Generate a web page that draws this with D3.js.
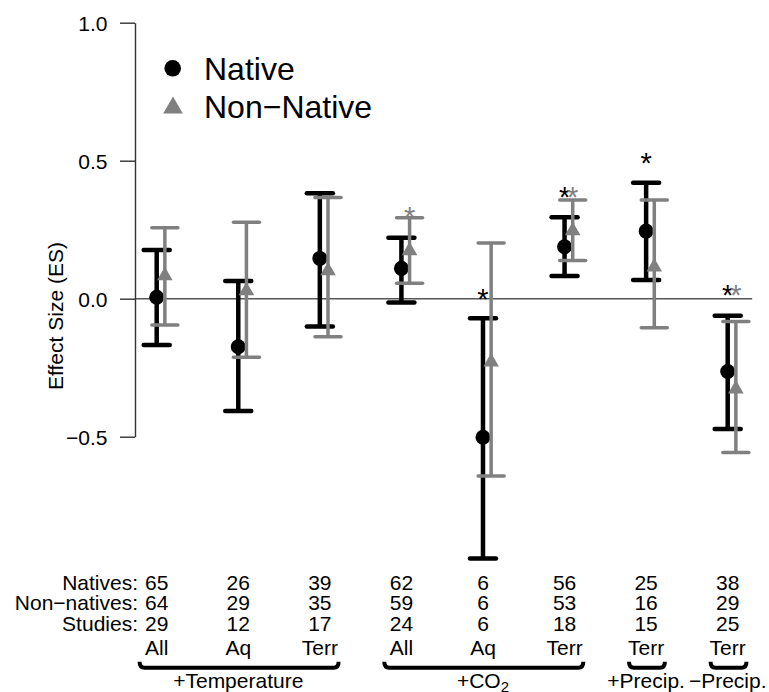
<!DOCTYPE html>
<html>
<head>
<meta charset="utf-8">
<script src="https://cdn.jsdelivr.net/npm/d3@7"></script>
<style>
  body { margin: 0; background: #fff; }
  text { font-family: "Liberation Sans", Arial, sans-serif; fill: #000; }
</style>
</head>
<body>
<div id="chart"></div>
<script>
// Data
const categories = ['All', 'Aq', 'Terr', 'All', 'Aq', 'Terr', 'Terr', 'Terr']
const treatments = ['+Temperature', '+CO2', '+Precip.', '\u2212Precip.']
const treatmentOf = [0, 0, 0, 1, 1, 1, 2, 3]

const nativeES = [0.005, -0.174, 0.146, 0.110, -0.502, 0.188, 0.245, -0.264]
const nativeLower = [-0.168, -0.407, -0.101, -0.014, -0.941, 0.082, 0.068, -0.472]
const nativeUpper = [0.176, 0.064, 0.382, 0.221, -0.071, 0.295, 0.420, -0.062]

const nonNativeES = [0.083, 0.029, 0.101, 0.174, -0.229, 0.246, 0.115, -0.327]
const nonNativeLower = [-0.095, -0.212, -0.138, 0.056, -0.642, 0.138, -0.105, -0.557]
const nonNativeUpper = [0.257, 0.277, 0.367, 0.293, 0.202, 0.358, 0.358, -0.083]

// significance stars (value at which the star sits)
const starNative = [null, null, null, null, 0.025, 0.394, 0.518, 0.038]
const starNonNative = [null, null, null, 0.321, null, 0.394, null, 0.038]

const nNatives = [65, 26, 39, 62, 6, 56, 25, 38]
const nNonNatives = [64, 29, 35, 59, 6, 53, 16, 29]
const nStudies = [29, 12, 17, 24, 6, 18, 15, 25]
const rowLabels = ['Natives:', 'Non\u2212natives:', 'Studies:']

const yTicks = [-0.5, 0, 0.5, 1.0]

function draw() {
  let dimensions = {
    width: 769,
    height: 692,
  }

  const grey = '#808080'
  const offset = 0.1

  const svg = d3.select('#chart')
    .append('svg')
    .attr('width', dimensions.width)
    .attr('height', dimensions.height)

  // Scales
  const xScale = d3.scaleLinear()
    .domain([1, 8])
    .range([156.7, 727.7])

  const yScale = d3.scaleLinear()
    .domain([-0.5, 1.0])
    .range([436.7, 22.7])

  const idx = d3.range(categories.length)

  // zero line
  svg.append('line')
    .attr('x1', 135)
    .attr('x2', xScale(8.3))
    .attr('y1', yScale(0))
    .attr('y2', yScale(0))
    .attr('stroke', '#555')
    .attr('stroke-width', 1.5)

  // Axis
  const yAxis = d3.axisLeft(yScale)
    .tickValues(yTicks)
    .tickFormat(d3.format('.1f'))
    .tickSize(15)
    .tickSizeOuter(0)
    .tickPadding(12.5)

  const axisG = svg.append('g')
    .attr('transform', 'translate(135, 0)')
    .call(yAxis)

  axisG.select('.domain')
    .attr('stroke', '#333')
    .attr('stroke-width', 1.4)
  axisG.selectAll('.tick line')
    .attr('stroke', '#333')
    .attr('stroke-width', 1.4)
  axisG.selectAll('.tick text')
    .attr('font-size', 21)
    .attr('font-family', '"Liberation Sans", Arial, sans-serif')
    .attr('dy', '0.37em')
    .attr('fill', '#000')

  svg.append('text')
    .attr('transform', 'translate(63, 316) rotate(-90)')
    .attr('text-anchor', 'middle')
    .attr('font-size', 21)
    .text('Effect Size (ES)')

  // Error bars
  function errorBars(lower, upper, dx, color, lw, capLw) {
    const g = svg.append('g')
    g.selectAll('line.v')
      .data(idx)
      .join('line')
      .attr('class', 'v')
      .attr('x1', i => xScale(i + 1 + dx))
      .attr('x2', i => xScale(i + 1 + dx))
      .attr('y1', i => yScale(lower[i]))
      .attr('y2', i => yScale(upper[i]))
      .attr('stroke', color)
      .attr('stroke-width', lw)

    const caps = idx.flatMap(i => [{ i, v: lower[i] }, { i, v: upper[i] }])
    g.selectAll('line.cap')
      .data(caps)
      .join('line')
      .attr('class', 'cap')
      .attr('x1', d => xScale(d.i + 1 + dx) - 13)
      .attr('x2', d => xScale(d.i + 1 + dx) + 13)
      .attr('y1', d => yScale(d.v))
      .attr('y2', d => yScale(d.v))
      .attr('stroke', color)
      .attr('stroke-width', capLw)
      .attr('stroke-linecap', 'round')
  }

  errorBars(nativeLower, nativeUpper, 0, '#000', 4.5, 4.5)

  svg.append('g')
    .selectAll('circle')
    .data(idx)
    .join('circle')
    .attr('cx', i => xScale(i + 1))
    .attr('cy', i => yScale(nativeES[i]))
    .attr('r', 7.5)
    .attr('fill', '#000')

  errorBars(nonNativeLower, nonNativeUpper, offset, grey, 3.5, 3.5)

  const tri = d3.symbol(d3.symbolTriangle, 105)
  svg.append('g')
    .selectAll('path')
    .data(idx)
    .join('path')
    .attr('d', tri)
    .attr('transform', i => `translate(${xScale(i + 1 + offset)}, ${yScale(nonNativeES[i])})`)
    .attr('fill', grey)

  // Stars
  const starSize = 29
  function stars(vals, dx, color) {
    svg.append('g')
      .selectAll('text')
      .data(idx.filter(i => vals[i] !== null))
      .join('text')
      .attr('x', i => xScale(i + 1 + dx))
      .attr('y', i => yScale(vals[i]) + starSize * 0.59)
      .attr('text-anchor', 'middle')
      .attr('font-size', starSize)
      .style('fill', color)
      .text('*')
  }
  stars(starNative, 0, '#000')
  stars(starNonNative, offset, grey)

  // Legend
  const legend = svg.append('g')
  legend.append('circle')
    .attr('cx', 172.7)
    .attr('cy', 68.3)
    .attr('r', 8.3)
    .attr('fill', '#000')
  legend.append('path')
    .attr('d', d3.symbol(d3.symbolTriangle, 167))
    .attr('transform', 'translate(173, 107.8)')
    .attr('fill', grey)
  legend.append('text')
    .attr('x', 204)
    .attr('y', 80)
    .attr('font-size', 32)
    .text('Native')
  legend.append('text')
    .attr('x', 204)
    .attr('y', 118.3)
    .attr('font-size', 32)
    .text('Non\u2212Native')

  // Sample size table
  const rows = [nNatives, nNonNatives, nStudies]
  const rowY = [590, 610, 630.7]
  const table = svg.append('g')
    .attr('font-size', 21)

  table.selectAll('text.rowlab')
    .data(rowLabels)
    .join('text')
    .attr('class', 'rowlab')
    .attr('x', 138)
    .attr('y', (d, r) => rowY[r])
    .attr('text-anchor', 'end')
    .text(d => d)

  rows.forEach((row, r) => {
    table.selectAll(`text.row${r}`)
      .data(row)
      .join('text')
      .attr('class', `row${r}`)
      .attr('x', (d, i) => xScale(i + 1))
      .attr('y', rowY[r])
      .attr('text-anchor', 'middle')
      .text(d => d)
  })

  table.selectAll('text.cat')
    .data(categories)
    .join('text')
    .attr('class', 'cat')
    .attr('x', (d, i) => xScale(i + 1))
    .attr('y', 655)
    .attr('text-anchor', 'middle')
    .text(d => d)

  // Brackets for treatments
  const braceY = 667.7
  treatments.forEach((t, k) => {
    const members = idx.filter(i => treatmentOf[i] === k)
    const x0 = xScale(d3.min(members) + 1 - 0.21)
    const x1 = xScale(d3.max(members) + 1 + 0.23)
    svg.append('path')
      .attr('d', `M${x0},${braceY - 6} Q${x0},${braceY} ${x0 + 5},${braceY} L${x1 - 5},${braceY} Q${x1},${braceY} ${x1},${braceY - 6}`)
      .attr('fill', 'none')
      .attr('stroke', '#000')
      .attr('stroke-width', 4)

    const mid = xScale(d3.mean(members) + 1)
    const label = svg.append('text')
      .attr('x', mid)
      .attr('y', 688.3)
      .attr('text-anchor', 'middle')
      .attr('font-size', 21)
    if (t === '+CO2') {
      label.append('tspan').text('+CO')
      label.append('tspan')
        .attr('font-size', 15)
        .attr('dy', 4)
        .text('2')
    } else {
      label.text(t)
    }
  })
}

draw()
</script>
</body>
</html>
